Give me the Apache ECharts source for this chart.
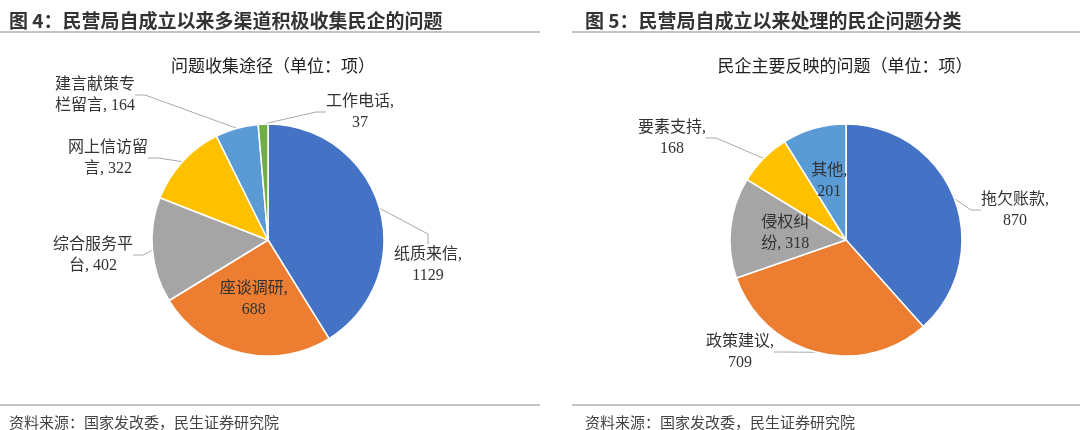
<!DOCTYPE html>
<html><head><meta charset="utf-8">
<script src="https://cdn.jsdelivr.net/npm/echarts@6/dist/echarts.min.js"></script>
<style>body{margin:0;background:#fff}#c{width:1080px;height:430px}</style>
</head><body><div id="c"></div>
<script>
// left pie: channels of collecting problems
const leftNames = ["纸质来信", "座谈调研", "综合服务平台", "网上信访留言", "建言献策专栏留言", "工作电话"];
const leftLabels = ["纸质来信,\n1129", "座谈调研,\n688", "综合服务平\n台, 402", "网上信访留\n言, 322", "建言献策专\n栏留言, 164", "工作电话,\n37"];
const leftValues = [1129, 688, 402, 322, 164, 37];
const leftInside = [false, true, false, false, false, false];
// right pie: problems reflected by private enterprises
const rightNames = ["拖欠账款", "政策建议", "侵权纠纷", "要素支持", "其他"];
const rightLabels = ["拖欠账款,\n870", "政策建议,\n709", "侵权纠\n纷, 318", "要素支持,\n168", "其他,\n201"];
const rightValues = [870, 709, 318, 168, 201];
const rightInside = [false, false, true, false, true];

// label anchor spots (centre of label text) for outside labels
const leftSpots = { 0: [428, 265], 2: [93, 255], 3: [108, 158], 4: [95, 95], 5: [360, 112] };
const rightSpots = { 0: [1015, 210], 1: [740, 352], 3: [672, 138] };

const colors = ["#4472C4", "#ED7D31", "#A5A5A5", "#FFC000", "#5B9BD5", "#70AD47"];
const labelFont = "'Liberation Serif','Noto Sans CJK SC',serif";

function buildData(names, labels, values, inside) {
  return names.map((n, i) => ({
    name: n,
    value: values[i],
    label: inside[i] ? { position: "inside", formatter: labels[i] } : { position: "outside", formatter: labels[i] },
    labelLine: { show: !inside[i] },
  }));
}

function pieSeries(center, data, spots) {
  return {
    type: "pie",
    center: center,
    radius: [0, 116],
    startAngle: 90,
    clockwise: true,
    data: data,
    itemStyle: { borderColor: "#fff", borderWidth: 1.5 },
    label: {
      fontFamily: labelFont,
      fontSize: 16,
      color: "#333",
      lineHeight: 21,
      align: "center",
    },
    labelLine: { length: 14, length2: 10, lineStyle: { color: "#aaa" } },
    labelLayout: function (p) {
      const s = spots[p.dataIndex];
      if (!s) return {};
      return { x: s[0], y: s[1], align: "center", verticalAlign: "middle" };
    },
    emphasis: { disabled: true },
  };
}

const chart = echarts.init(document.getElementById("c"));
chart.setOption({
  color: colors,
  animation: false,
  title: [
    { text: "图 4：民营局自成立以来多渠道积极收集民企的问题", left: 4, top: 6,
      textStyle: { fontSize: 19, fontWeight: "bold", color: "#333", fontFamily: "'Noto Sans CJK SC'" } },
    { text: "图 5：民营局自成立以来处理的民企问题分类", left: 580, top: 6,
      textStyle: { fontSize: 19, fontWeight: "bold", color: "#333", fontFamily: "'Noto Sans CJK SC'" } },
    { text: "问题收集途径（单位：项）", left: 268, top: 52, textAlign: "center",
      textStyle: { fontSize: 17, fontWeight: "normal", color: "#222", fontFamily: "'Noto Sans CJK SC'" } },
    { text: "民企主要反映的问题（单位：项）", left: 840, top: 52, textAlign: "center",
      textStyle: { fontSize: 17, fontWeight: "normal", color: "#222", fontFamily: "'Noto Sans CJK SC'" } },
    { text: "资料来源：国家发改委，民生证券研究院", left: 4, top: 410,
      textStyle: { fontSize: 15, fontWeight: "normal", color: "#444", fontFamily: "'Noto Sans CJK SC'" } },
    { text: "资料来源：国家发改委，民生证券研究院", left: 580, top: 410,
      textStyle: { fontSize: 15, fontWeight: "normal", color: "#444", fontFamily: "'Noto Sans CJK SC'" } },
  ],
  graphic: [
    { type: "line", shape: { x1: 0, y1: 32, x2: 540, y2: 32 }, style: { stroke: "#888", lineWidth: 1 } },
    { type: "line", shape: { x1: 572, y1: 32, x2: 1080, y2: 32 }, style: { stroke: "#888", lineWidth: 1 } },
    { type: "line", shape: { x1: 0, y1: 405, x2: 540, y2: 405 }, style: { stroke: "#888", lineWidth: 1 } },
    { type: "line", shape: { x1: 572, y1: 405, x2: 1080, y2: 405 }, style: { stroke: "#888", lineWidth: 1 } },
  ],
  series: [
    pieSeries([268, 240], buildData(leftNames, leftLabels, leftValues, leftInside), leftSpots),
    pieSeries([846, 240], buildData(rightNames, rightLabels, rightValues, rightInside), rightSpots),
  ],
});
</script></body></html>
